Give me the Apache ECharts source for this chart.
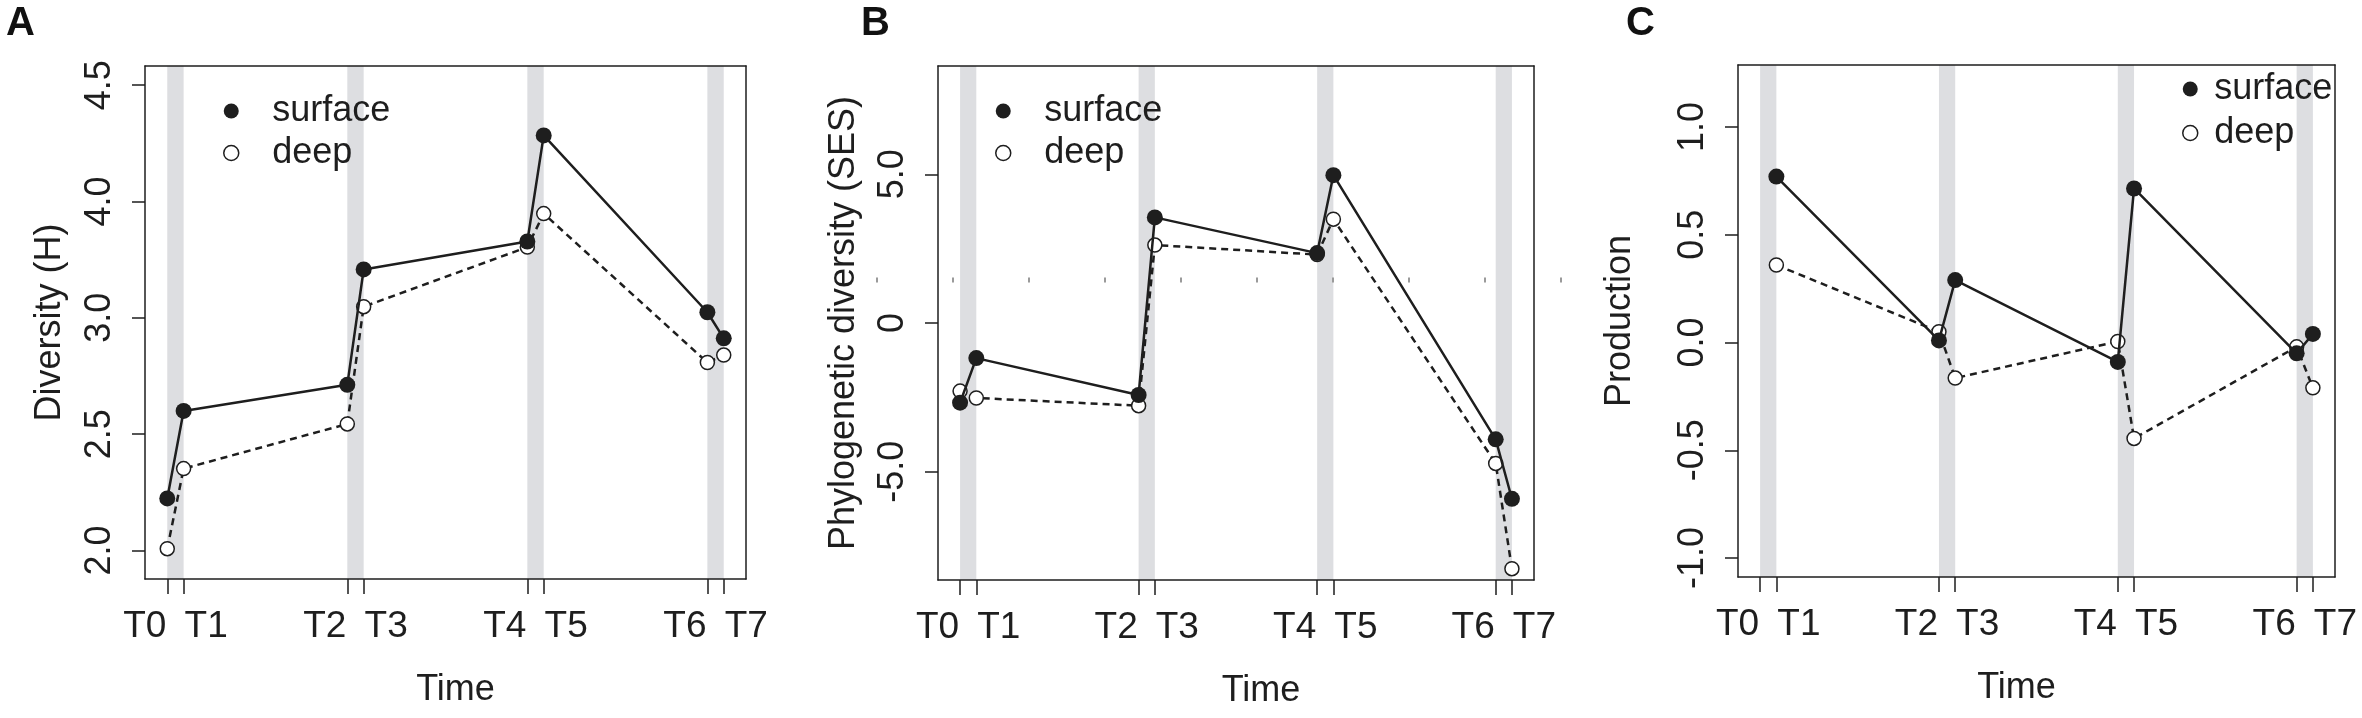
<!DOCTYPE html>
<html>
<head>
<meta charset="utf-8">
<script src="https://cdn.jsdelivr.net/npm/echarts@6/dist/echarts.min.js"></script>
<style>
html, body { margin: 0; background: #fff; }
#chart { width: 2362px; height: 718px; }
</style>
</head>
<body>
<div id="chart"></div>
<script>
// sampling times (days) and their labels
var times = [0, 1, 11, 12, 22, 23, 33, 34];
var timeLabels = ['T0', 'T1', 'T2', 'T3', 'T4', 'T5', 'T6', 'T7'];
var bands = [[0, 1], [11, 12], [22, 23], [33, 34]];

// A: diversity (H) - printed ticks are evenly spaced
var diversityTicks = [2.0, 2.625, 3.25, 3.875, 4.5];
var diversityTickLabels = ['2.0', '2.5', '3.0', '4.0', '4.5'];
var diversitySurface = [2.28, 2.75, 2.89, 3.51, 3.66, 4.23, 3.28, 3.14];
var diversityDeep = [2.01, 2.44, 2.68, 3.31, 3.63, 3.81, 3.01, 3.05];

// B: phylogenetic diversity (SES)
var pdTicks = [-5, 0, 5];
var pdTickLabels = ['-5.0', '0', '5.0'];
var pdSurface = [-2.68, -1.18, -2.42, 3.55, 2.35, 4.97, -3.91, -5.91];
var pdDeep = [-2.29, -2.52, -2.78, 2.62, 2.30, 3.49, -4.72, -8.26];

// C: production (no T0 sample)
var prodTicks = [-1, -0.5, 0, 0.5, 1];
var prodTickLabels = ['-1.0', '-0.5', '0.0', '0.5', '1.0'];
var prodSurface = [null, 0.77, 0.01, 0.29, -0.09, 0.715, -0.05, 0.04];
var prodDeep = [null, 0.36, 0.05, -0.165, 0.005, -0.445, -0.02, -0.21];

var FONT = 'Liberation Sans, Arial, Helvetica, sans-serif';
var INK = '#1e1e1e';

// legend 'left' is the left edge of the dot (circle bbox), dot-to-text = itemWidth / 2 + 5
var panels = [
    {letter: 'A', letterX: 6, title: 'Diversity (H)', nameGap: 77, timeShift: 10,
        grid: {left: 145, top: 66, width: 601, height: 513},
        ymin: 1.847, ymax: 4.603, ticks: diversityTicks, tickLabels: diversityTickLabels,
        surface: diversitySurface, deep: diversityDeep,
        legend: {left: 223, top: 93, itemWidth: 72, itemGap: 6}},
    {letter: 'B', letterX: 861, title: 'Phylogenetic diversity (SES)', nameGap: 76, timeShift: 25,
        grid: {left: 938, top: 66, width: 596, height: 514},
        ymin: -8.64, ymax: 8.64, ticks: pdTicks, tickLabels: pdTickLabels,
        surface: pdSurface, deep: pdDeep,
        legend: {left: 995, top: 93, itemWidth: 72, itemGap: 6}},
    {letter: 'C', letterX: 1626, title: 'Production', nameGap: 100, timeShift: -20,
        grid: {left: 1738, top: 65, width: 597, height: 512},
        ymin: -1.088, ymax: 1.288, ticks: prodTicks, tickLabels: prodTickLabels,
        surface: prodSurface, deep: prodDeep,
        legend: {left: 2182, top: 71, itemWidth: 38, itemGap: 8}}
];

function pairs(vals) {
    var out = [];
    for (var i = 0; i < times.length; i++) {
        if (vals[i] !== null) out.push([times[i], vals[i]]);
    }
    return out;
}

var dom = document.getElementById('chart');
var myChart = echarts.init(dom, null, {renderer: 'canvas'});

var option = {
    animation: false,
    backgroundColor: '#fff',
    textStyle: {fontFamily: FONT},
    title: [],
    grid: [],
    xAxis: [],
    yAxis: [],
    legend: [],
    series: [],
    graphic: []
};

var tickFont = {fontFamily: FONT, fontSize: 37, color: INK};

panels.forEach(function (p, i) {
    option.title.push({
        text: p.letter, left: p.letterX, top: 4, padding: 0,
        textStyle: {fontFamily: FONT, fontSize: 40, fontWeight: 'bold', color: '#111'}
    });
    option.grid.push(Object.assign({containLabel: false}, p.grid));

    var lineStyle = {color: INK, width: 1.5};
    var shift = p.timeShift;
    option.xAxis.push({
        type: 'value', gridIndex: i, min: -1.36, max: 35.36, z: 3,
        name: 'Time', nameLocation: 'middle', nameGap: 93,
        nameTextStyle: {
            fontFamily: FONT, fontSize: 36, color: INK,
            padding: shift >= 0 ? [0, 0, 0, 2 * shift] : [0, -2 * shift, 0, 0]
        },
        axisLine: {show: true, onZero: false, lineStyle: lineStyle},
        axisTick: {show: true, length: 15, lineStyle: lineStyle, customValues: times},
        axisLabel: {
            customValues: times, margin: 29, showMinLabel: true, showMaxLabel: true, hideOverlap: false,
            fontFamily: FONT, fontSize: 37, color: INK,
            // even labels end at their tick, odd labels start at it
            formatter: function (v) {
                var k = times.indexOf(v);
                if (k < 0) return '';
                return (k % 2 === 0 ? '{e|' : '{o|') + timeLabels[k] + '}';
            },
            rich: {
                e: Object.assign({padding: [0, 45, 0, 0]}, tickFont),
                o: Object.assign({padding: [0, 0, 0, 45]}, tickFont)
            }
        },
        splitLine: {show: false}
    });
    option.xAxis.push({
        type: 'value', gridIndex: i, min: -1.36, max: 35.36, position: 'top', z: 3,
        axisLine: {show: true, onZero: false, lineStyle: lineStyle},
        axisTick: {show: false}, axisLabel: {show: false}, splitLine: {show: false}
    });
    option.yAxis.push({
        type: 'value', gridIndex: i, min: p.ymin, max: p.ymax, z: 3,
        name: p.title, nameLocation: 'middle', nameGap: p.nameGap, nameRotate: 90,
        nameTextStyle: {fontFamily: FONT, fontSize: 36, color: INK},
        axisLine: {show: true, onZero: false, lineStyle: lineStyle},
        axisTick: {show: true, length: 13, lineStyle: lineStyle, customValues: p.ticks},
        axisLabel: {
            customValues: p.ticks, rotate: 90, margin: 27, showMinLabel: true, showMaxLabel: true,
            fontFamily: FONT, fontSize: 36, color: INK,
            formatter: function (v) {
                var k = p.ticks.indexOf(v);
                return k >= 0 ? p.tickLabels[k] : '';
            }
        },
        splitLine: {show: false}
    });
    option.yAxis.push({
        type: 'value', gridIndex: i, min: p.ymin, max: p.ymax, position: 'right', z: 3,
        axisLine: {show: true, onZero: false, lineStyle: lineStyle},
        axisTick: {show: false}, axisLabel: {show: false}, splitLine: {show: false}
    });

    var xi = 2 * i, yi = 2 * i;

    // grey sampling bands
    option.series.push({
        name: 'band', type: 'line', xAxisIndex: xi, yAxisIndex: yi, data: [], z: 1, silent: true,
        markArea: {
            silent: true,
            itemStyle: {color: '#dddee1'},
            data: bands.map(function (b) { return [{xAxis: b[0]}, {xAxis: b[1]}]; })
        }
    });
    option.series.push({
        name: 'deep', type: 'line', xAxisIndex: xi, yAxisIndex: yi, z: 5,
        data: pairs(p.deep), symbol: 'circle', symbolSize: 14,
        lineStyle: {color: INK, width: 2.5, type: [7, 5]},
        itemStyle: {color: '#fff', borderColor: INK, borderWidth: 1.5}
    });
    option.series.push({
        name: 'surface', type: 'line', xAxisIndex: xi, yAxisIndex: yi, z: 6,
        data: pairs(p.surface), symbol: 'circle', symbolSize: 16,
        lineStyle: {color: INK, width: 2.5},
        itemStyle: {color: INK, borderColor: INK, borderWidth: 0}
    });

    option.legend.push({
        orient: 'vertical', left: p.legend.left, top: p.legend.top, padding: 0,
        itemWidth: p.legend.itemWidth, itemHeight: 15, itemGap: p.legend.itemGap, icon: 'circle',
        textStyle: {fontFamily: FONT, fontSize: 36, color: INK},
        data: [
            {name: 'surface', itemStyle: {color: INK, borderWidth: 0}},
            {name: 'deep', itemStyle: {color: '#fff', borderColor: INK, borderWidth: 1.5}}
        ]
    });
});

// faint row of stray tick marks crossing panel B
option.graphic.push({
    type: 'line', silent: true, z: 10,
    shape: {x1: 876, y1: 280, x2: 1566, y2: 280},
    style: {stroke: '#9a9a9a', lineWidth: 5, lineDash: [2, 74]}
});

myChart.setOption(option);
window.addEventListener('resize', myChart.resize);
</script>
</body>
</html>
